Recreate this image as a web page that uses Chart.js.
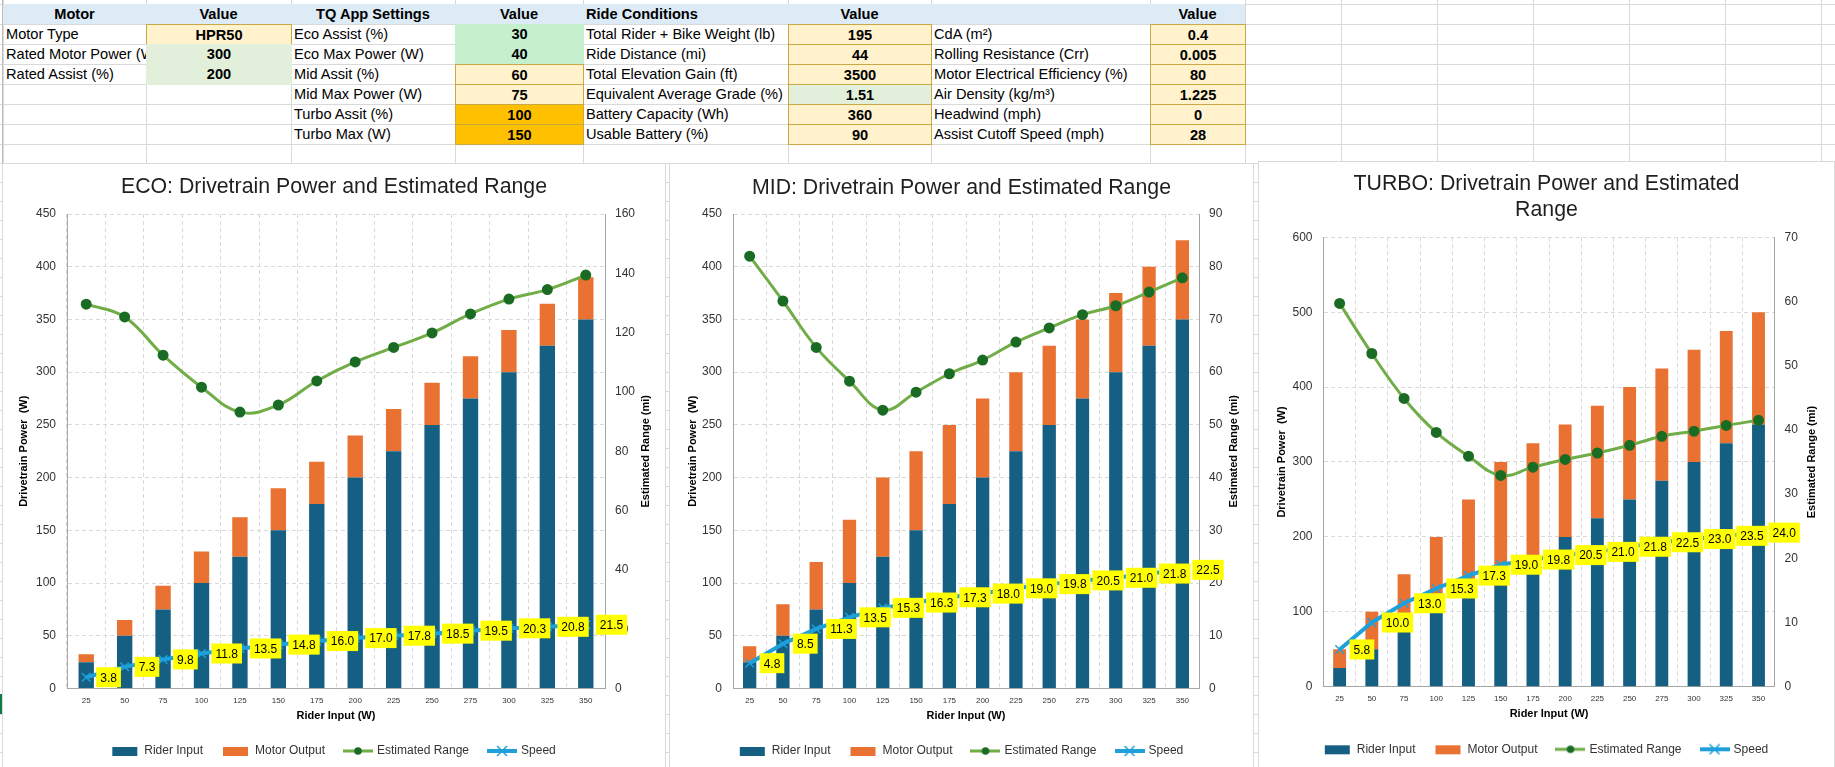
<!DOCTYPE html>
<html>
<head>
<meta charset="utf-8">
<title>HPR50 Drivetrain Power and Range</title>
<script src="https://cdn.jsdelivr.net/npm/chart.js@4.4.1/dist/chart.umd.min.js"></script>
<style>
  body { margin: 0; width: 1835px; height: 767px; overflow: hidden; background: #fff; position: relative;
         font-family: 'Liberation Sans', Arial, sans-serif; }
  .gl { position: absolute; background: #d9d9d9; }
  .cell { position: absolute; height: 20px; line-height: 20px; font-size: 14.6px; color: #000; white-space: nowrap;
          overflow: hidden; box-sizing: border-box; padding: 0 3px; }
  .c { text-align: center; font-weight: bold; }
  .box { position: absolute; background: #fff; border: 1px solid #d9d9d9; }
  .box canvas { position: absolute; left: 0; top: 0; }
  .ttl { position: absolute; left: 0; right: 0; text-align: center; font-size: 21.3px; line-height: 26px; color: #1f1f1f; }
</style>
</head>
<body>
<div id="sheet"></div>

<div class="box" style="left:2px;top:163px;width:662px;height:603px">
  <canvas id="eco" width="662" height="603"></canvas>
  <div class="ttl" style="top:9px">ECO: Drivetrain Power and Estimated Range</div>
</div>
<div class="box" style="left:669px;top:163px;width:583px;height:603px">
  <canvas id="mid" width="583" height="603"></canvas>
  <div class="ttl" style="top:10px">MID: Drivetrain Power and Estimated Range</div>
</div>
<div class="box" style="left:1258px;top:161px;width:575px;height:605px">
  <canvas id="turbo" width="575" height="605"></canvas>
  <div class="ttl" style="top:8px">TURBO: Drivetrain Power and Estimated<br>Range</div>
</div>

<script>
// rider input (W) on the x axis
const riderLabels = ['25', '50', '75', '100', '125', '150', '175', '200', '225', '250', '275', '300', '325', '350']
const riderInput = [25, 50, 75, 100, 125, 150, 175, 200, 225, 250, 275, 300, 325, 350]

// ECO
const ecoMotor = [7.5, 15, 22.5, 30, 37.5, 40, 40, 40, 40, 40, 40, 40, 40, 40]
const ecoRange = [129.6, 125.3, 112.4, 101.6, 93.2, 95.6, 103.7, 110.1, 115.0, 119.9, 126.3, 131.3, 134.5, 139.4]
const ecoSpeed = [3.8, 7.3, 9.8, 11.8, 13.5, 14.8, 16.0, 17.0, 17.8, 18.5, 19.5, 20.3, 20.8, 21.5]

// MID
const midMotor = [15, 30, 45, 60, 75, 75, 75, 75, 75, 75, 75, 75, 75, 75]
const midRange = [82.0, 73.5, 64.7, 58.3, 52.8, 56.2, 59.7, 62.3, 65.7, 68.4, 70.9, 72.6, 75.2, 77.9]
const midSpeed = [4.8, 8.5, 11.3, 13.5, 15.3, 16.3, 17.3, 18.0, 19.0, 19.8, 20.5, 21.0, 21.8, 22.5]

// TURBO
const turboMotor = [25, 50, 75, 100, 125, 150, 150, 150, 150, 150, 150, 150, 150, 150]
const turboRange = [59.7, 51.9, 44.9, 39.6, 35.9, 32.9, 34.2, 35.4, 36.4, 37.6, 39.0, 39.8, 40.7, 41.5]
const turboSpeed = [5.8, 10.0, 13.0, 15.3, 17.3, 19.0, 19.8, 20.5, 21.0, 21.8, 22.5, 23.0, 23.5, 24.0]

// spreadsheet cells above the charts
const tableHead = ['Motor', 'Value', 'TQ App Settings', 'Value', 'Ride Conditions', 'Value', '', 'Value']
const tableRows = [
  ['Motor Type', 'HPR50', 'Eco Assist (%)', '30', 'Total Rider + Bike Weight (lb)', '195', 'CdA (m²)', '0.4'],
  ['Rated Motor Power (W)', '300', 'Eco Max Power (W)', '40', 'Ride Distance (mi)', '44', 'Rolling Resistance (Crr)', '0.005'],
  ['Rated Assist (%)', '200', 'Mid Assit (%)', '60', 'Total Elevation Gain (ft)', '3500', 'Motor Electrical Efficiency (%)', '80'],
  ['', '', 'Mid Max Power (W)', '75', 'Equivalent Average Grade (%)', '1.51', 'Air Density (kg/m³)', '1.225'],
  ['', '', 'Turbo Assit (%)', '100', 'Battery Capacity (Wh)', '360', 'Headwind (mph)', '0'],
  ['', '', 'Turbo Max (W)', '150', 'Usable Battery (%)', '90', 'Assist Cutoff Speed (mph)', '28'],
]
// fill of the value columns B, D, F, H per row
const cellFills = [
  ['y', 'm', 'y', 'y'],
  ['g', 'm', 'y', 'y'],
  ['g', 'y', 'y', 'y'],
  ['', 'y', 'gb', 'y'],
  ['', 'o', 'y', 'y'],
  ['', 'o', 'y', 'y'],
]

const colX = [3, 146, 291, 455, 583, 788, 931, 1150, 1245, 1341, 1437, 1533, 1629, 1725, 1821]
const fills = {
  y: 'background:#FFF2CC;border:1px solid #C9A846;',
  m: 'background:#C6EFCE;',
  g: 'background:#E2EFDA;',
  gb: 'background:#E2EFDA;border:1px solid #C9A846;',
  o: 'background:#FFC000;border:1px solid #C9A846;',
}

function buildSheet() {
  const sheet = document.getElementById('sheet')
  let html = ''
  colX.forEach(function (x) {
    html += '<div class="gl" style="left:' + x + 'px;top:0;width:1px;height:767px"></div>'
  })
  for (let y = 4; y <= 144; y += 20) {
    html += '<div class="gl" style="left:0;top:' + y + 'px;width:1835px;height:1px"></div>'
  }
  for (let y = 163; y < 767; y += 19) {
    html += '<div class="gl" style="left:0;top:' + y + 'px;width:1835px;height:1px"></div>'
  }
  // row header edge
  html += '<div style="position:absolute;left:2px;top:0;width:1px;height:767px;background:#bdbdbd"></div>'
  html += '<div style="position:absolute;left:0;top:694px;width:2px;height:20px;background:#107C41"></div>'
  // header row
  html += '<div style="position:absolute;left:3px;top:4px;width:1242px;height:20px;background:#DDEBF7"></div>'
  tableHead.forEach(function (t, i) {
    const left = colX[i], w = colX[i + 1] - colX[i]
    const align = i === 4 ? 'text-align:left;font-weight:bold;' : 'text-align:center;font-weight:bold;'
    html += '<div class="cell" style="left:' + left + 'px;top:4px;width:' + w + 'px;' + align + '">' + t + '</div>'
  })
  tableRows.forEach(function (row, r) {
    const top = 24 + r * 20
    row.forEach(function (t, i) {
      const left = colX[i], w = colX[i + 1] - colX[i] + 1
      let style = ''
      if (i % 2 === 1) {
        const f = cellFills[r][(i - 1) / 2]
        style = f ? fills[f] : ''
      }
      const cls = i % 2 === 1 ? 'cell c' : 'cell'
      html += '<div class="' + cls + '" style="left:' + left + 'px;top:' + top + 'px;width:' + w + 'px;height:21px;' + style + '">' + t + '</div>'
    })
  })
  sheet.innerHTML = html
}

// yellow value labels next to the speed points
const speedLabels = {
  id: 'speedLabels',
  afterDatasetsDraw(chart) {
    const idx = chart.data.datasets.findIndex(function (d) { return d.label === 'Speed' })
    const meta = chart.getDatasetMeta(idx)
    const ctx = chart.ctx
    ctx.save()
    ctx.font = '12px "Liberation Sans", Arial, sans-serif'
    ctx.textAlign = 'center'
    ctx.textBaseline = 'middle'
    meta.data.forEach(function (pt, i) {
      const txt = chart.data.datasets[idx].data[i].toFixed(1)
      const w = ctx.measureText(txt).width + 8
      const x0 = pt.x + 10
      ctx.fillStyle = '#FFFF00'
      ctx.fillRect(x0, pt.y - 10, w, 20)
      ctx.fillStyle = '#000'
      ctx.fillText(txt, x0 + w / 2, pt.y + 1)
    })
    ctx.restore()
  },
}

// both axis titles read bottom to top, like the sheet
const sideTitles = {
  id: 'sideTitles',
  afterDraw(chart, args, opts) {
    const ctx = chart.ctx
    const a = chart.chartArea
    const cy = (a.top + a.bottom) / 2
    ctx.save()
    ctx.font = 'bold 11px "Liberation Sans", Arial, sans-serif'
    ctx.fillStyle = '#000'
    ctx.textAlign = 'center'
    ctx.textBaseline = 'middle'
    const items = [[a.left - opts.left, 'Drivetrain Power  (W)'], [a.right + opts.right, 'Estimated Range (mi)']]
    items.forEach(function (it) {
      ctx.save()
      ctx.translate(it[0], cy)
      ctx.rotate(-Math.PI / 2)
      ctx.fillText(it[1], 0, 0)
      ctx.restore()
    })
    ctx.restore()
  },
}

function legendIcon(kind, color, color2) {
  const c = document.createElement('canvas')
  c.width = 30
  c.height = 12
  const g = c.getContext('2d')
  if (kind === 'bar') {
    g.fillStyle = color
    g.fillRect(2, 2, 25, 9)
  } else if (kind === 'range') {
    g.strokeStyle = color
    g.lineWidth = 3
    g.beginPath(); g.moveTo(0, 6); g.lineTo(30, 6); g.stroke()
    g.fillStyle = color2
    g.beginPath(); g.arc(15, 6, 3.8, 0, Math.PI * 2); g.fill()
  } else {
    g.strokeStyle = color
    g.lineWidth = 4
    g.beginPath(); g.moveTo(0, 6); g.lineTo(30, 6); g.stroke()
    g.lineWidth = 1.5
    g.beginPath(); g.moveTo(10, 1); g.lineTo(20, 11); g.moveTo(20, 1); g.lineTo(10, 11); g.stroke()
  }
  return c
}

const riderColor = '#156082'
const motorColor = '#E97132'
const rangeColor = '#70AD47'
const rangePoint = '#1A6B24'
const speedColor = '#1EA0DB'
const icons = [
  legendIcon('bar', riderColor),
  legendIcon('bar', motorColor),
  legendIcon('range', rangeColor, rangePoint),
  legendIcon('speed', speedColor),
]

function generateChart(id, cfg) {
  const ctx = document.getElementById(id).getContext('2d')
  return new Chart(ctx, {
    type: 'bar',
    data: {
      labels: riderLabels,
      datasets: [
        // stacking follows `order`, so rider input sits at the bottom
        { label: 'Rider Input', data: riderInput, backgroundColor: riderColor, yAxisID: 'y', order: 2,
          barPercentage: 1, categoryPercentage: 0.4 },
        { label: 'Motor Output', data: cfg.motor, backgroundColor: motorColor, yAxisID: 'y', order: 3,
          barPercentage: 1, categoryPercentage: 0.4 },
        { type: 'line', label: 'Estimated Range', data: cfg.range, yAxisID: 'y1', order: 1,
          borderColor: rangeColor, borderWidth: 3, tension: 0.4,
          pointRadius: 4, pointBackgroundColor: rangePoint, pointBorderColor: rangePoint },
        { type: 'line', label: 'Speed', data: cfg.speed, yAxisID: 'y1', order: 0,
          borderColor: speedColor, borderWidth: 4, tension: 0,
          pointStyle: 'crossRot', pointRadius: 6, pointBorderWidth: 1.5, pointBorderColor: speedColor },
      ],
    },
    plugins: [speedLabels, sideTitles],
    options: {
      responsive: false,
      animation: false,
      layout: { padding: { top: cfg.padTop, left: 0, right: 0, bottom: cfg.padBottom } },
      scales: {
        x: {
          stacked: true,
          grid: { color: '#D9D9D9', drawTicks: false },
          border: { display: true, color: '#A6A6A6', dash: [4, 3] },
          ticks: { font: { size: 8 }, color: '#333', padding: 7, maxRotation: 0, autoSkip: false },
          title: { display: true, text: 'Rider Input (W)', color: '#000',
            font: { size: 11, weight: 'bold' }, padding: { top: 0, bottom: 2.5 } },
          afterFit: function (s) { s.height = cfg.xh },
        },
        y: {
          stacked: true,
          min: 0,
          max: cfg.yMax,
          ticks: { stepSize: cfg.yStep, font: { size: 12 }, color: '#333', padding: 11 },
          grid: { color: '#D9D9D9', drawTicks: false },
          border: { display: true, color: '#A6A6A6', dash: [4, 3] },
          afterFit: function (s) { s.width = cfg.yW },
        },
        y1: {
          position: 'right',
          min: 0,
          max: cfg.y1Max,
          ticks: { stepSize: cfg.y1Step, font: { size: 12 }, color: '#333', padding: 10 },
          grid: { display: false, drawTicks: false },
          border: { display: true, color: '#A6A6A6' },
          afterFit: function (s) { s.width = cfg.y1W },
        },
      },
      plugins: {
        title: { display: false },
        tooltip: { enabled: false },
        sideTitles: { left: cfg.titleL, right: cfg.titleR },
        legend: {
          position: 'bottom',
          labels: {
            usePointStyle: true,
            pointStyleWidth: 26,
            padding: 20,
            color: '#333',
            font: { size: 12 },
            generateLabels: function (chart) {
              return chart.data.datasets.map(function (ds, i) {
                return { text: ds.label, pointStyle: icons[i], datasetIndex: i, hidden: false,
                  fontColor: '#333', lineWidth: 0, strokeStyle: 'rgba(0,0,0,0)', fillStyle: 'rgba(0,0,0,0)' }
              })
            },
          },
        },
      },
    },
  })
}

buildSheet()
generateChart('eco', { motor: ecoMotor, range: ecoRange, speed: ecoSpeed, yMax: 450, yStep: 50, y1Max: 160, y1Step: 20,
  padTop: 50, padBottom: 0, xh: 36.5, yW: 64, y1W: 60, titleL: 43, titleR: 41 })
generateChart('mid', { motor: midMotor, range: midRange, speed: midSpeed, yMax: 450, yStep: 50, y1Max: 90, y1Step: 10,
  padTop: 50, padBottom: 0, xh: 36.5, yW: 63, y1W: 54, titleL: 40.5, titleR: 35 })
generateChart('turbo', { motor: turboMotor, range: turboRange, speed: turboSpeed, yMax: 600, yStep: 100, y1Max: 70, y1Step: 10,
  padTop: 75.3, padBottom: 1.7, xh: 36.6, yW: 64.5, y1W: 59.4, titleL: 42, titleR: 37 })
</script>
</body>
</html>
